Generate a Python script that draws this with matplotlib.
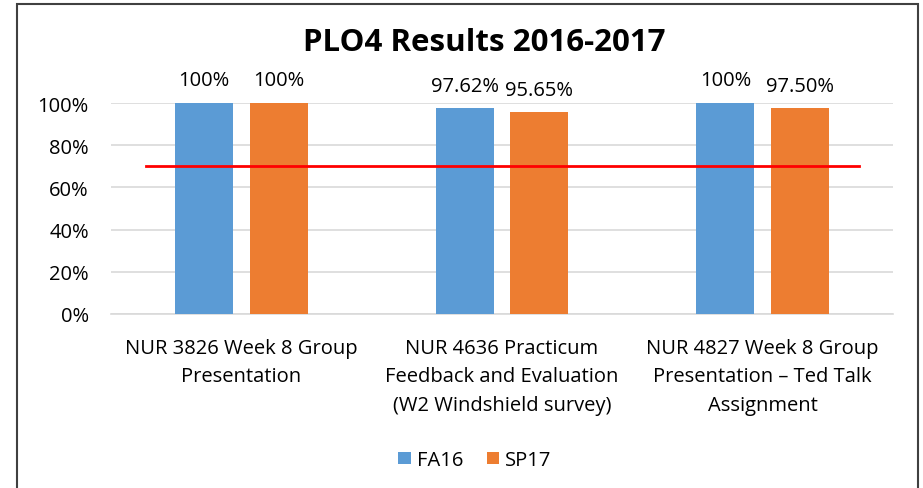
import matplotlib.pyplot as plt
import numpy as np
from matplotlib.patches import Rectangle

# chart data
categories = ['NUR 3826 Week 8 Group\nPresentation',
              'NUR 4636 Practicum\nFeedback and Evaluation\n(W2 Windshield survey)',
              'NUR 4827 Week 8 Group\nPresentation \u2013 Ted Talk\nAssignment']
fa16 = [1.0, 0.9762, 1.0]
sp17 = [1.0, 0.9565, 0.975]
fa16_labels = ['100%', '97.62%', '100%']
sp17_labels = ['100%', '95.65%', '97.50%']
target = 0.70
yticks = [0, 0.2, 0.4, 0.6, 0.8, 1.0]
ytick_labels = ['0%', '20%', '40%', '60%', '80%', '100%']

plt.rcParams['font.family'] = ['Open Sans', 'DejaVu Sans']

W, H = 923, 489
fig = plt.figure(figsize=(W / 100, H / 100), dpi=100)

# outer border
fig.patches.append(Rectangle((17 / W, -0.05), (918 - 17) / W, 1.05 - 5 / H,
                             transform=fig.transFigure, fill=False,
                             edgecolor='#404040', linewidth=1.5))

ax = fig.add_axes([111 / W, (H - 315) / H, 782 / W, 211 / H])

x = np.arange(len(categories))
width = 0.223
off = 0.143
blue = '#5B9BD5'
orange = '#ED7D31'
fs = 14.5

b1 = ax.bar(x - off, fa16, width, color=blue, label='FA16', zorder=3)
b2 = ax.bar(x + off, sp17, width, color=orange, label='SP17', zorder=3)

for bars, labels in [(b1, fa16_labels), (b2, sp17_labels)]:
    for bar, lab in zip(bars, labels):
        ax.annotate(lab, (bar.get_x() + bar.get_width() / 2, bar.get_height()),
                    xytext=(0, 9), textcoords='offset points',
                    ha='center', va='bottom', fontsize=fs, color='#000000',
                    annotation_clip=False)

# target line
ax.plot([-0.366, 2.37], [target, target], color='#FF0000', linewidth=2, zorder=4)

ax.set_xlim(-0.5, 2.5)
ax.set_ylim(0, 1.0)
ax.set_yticks(yticks)
ax.set_yticklabels(ytick_labels, fontsize=fs)
ax.set_xticks(x)
ax.set_xticklabels(categories, fontsize=fs, linespacing=1.58)
ax.tick_params(axis='both', length=0, colors='#000000')
ax.tick_params(axis='y', pad=16)
ax.tick_params(axis='x', pad=17)
ax.grid(axis='y', color='#D9D9D9', linewidth=1.2, zorder=0)
for s in ['top', 'right', 'left']:
    ax.spines[s].set_visible(False)
ax.spines['bottom'].set_color('#D9D9D9')
ax.spines['bottom'].set_linewidth(1.2)

fig.text(484 / W, 1 - 43 / H, 'PLO4 Results 2016-2017', ha='center', va='center',
         fontsize=22.5, fontweight='bold')

fig.legend(handles=[b1, b2], loc='center', bbox_to_anchor=(475 / W, 1 - 461 / H),
           ncol=2, frameon=False, fontsize=fs, handlelength=0.6, handleheight=0.6,
           handletextpad=0.3, columnspacing=1.2)

fig.savefig('out.png', dpi=100)
